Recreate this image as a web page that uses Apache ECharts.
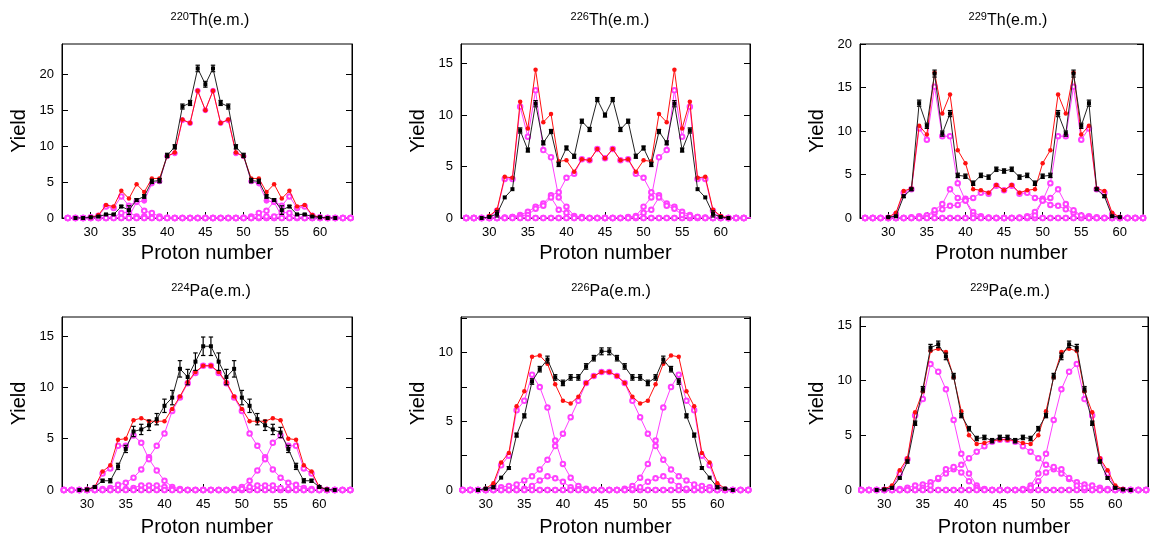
<!DOCTYPE html>
<html>
<head>
<meta charset="utf-8">
<script src="https://cdn.jsdelivr.net/npm/echarts@6/dist/echarts.min.js"></script>
<style>
html,body{margin:0;padding:0;background:#fff;}
#c{width:1151px;height:542px;}
</style>
</head>
<body>
<div id="c"></div>
<script>
// Proton number (Z) categories
const Z = [27,28,29,30,31,32,33,34,35,36, 37,38,39,40,41,42,43,44,45,46, 47,48,49,50,51,52,53,54,55,56, 57,58,59,60,61,62,63,64];
const xTicks = [30,35,40,45,50,55,60];

// Panel titles
const titleMass = ['220','226','229','224','226','229'];
const titleElem = ['Th','Th','Th','Pa','Pa','Pa'];

// ---- 220Th ----
const p1Exp = [null,0,0,0.1,0.2,0.5,0.5,1.6,1.1,2.5, 3.0,5.1,5.2,8.7,9.9,15.5,16.0,20.8,18.6,20.8, 16.0,15.5,9.9,8.7,5.2,5.1,3.0,2.5,1.1,1.6, 0.5,0.5,0.2,0.1,0,0,null,null];
const p1Err = [null,0,0,0.05,0.1,0.1,0.1,0.15,0.6,0.2, 0.25,0.3,0.3,0.3,0.3,0.35,0.35,0.45,0.4,0.45, 0.35,0.35,0.3,0.3,0.3,0.3,0.25,0.2,0.6,0.15, 0.1,0.1,0.05,0.05,0,0,null,null];
const p1Tot = [null,null,null,0.1,0.4,1.8,1.6,3.8,2.7,4.7, 3.6,5.5,5.5,8.6,9.1,13.7,13.2,17.7,15.0,17.7, 13.2,13.7,9.1,8.6,5.5,5.5,3.6,4.7,2.7,3.8, 1.6,1.8,0.4,0.1,0,null,null,null];
const p1Sym = [0,0,0,0,0,0,0,0,0.2,2.2, 2.4,4.8,5.1,8.6,9.0,13.6,13.2,17.7,15.0,17.7, 13.2,13.6,9.0,8.6,5.1,4.8,2.4,2.2,0.2,0, 0,0,0,0,0,0,0,0];
const p1L1  = [0,0,0,0.1,0.3,1.6,1.4,3.0,1.7,2.3, 1.0,0.7,0.2,0.05,0,0,0,0,0,0, 0,0,0,0,0,0,0,0,0,0, 0,0,0,0,0,0,0,0];
const p1H1  = [0,0,0,0,0,0,0,0,0,0, 0,0,0,0,0,0,0,0,0,0, 0,0,0,0.05,0.2,0.7,1.0,2.3,1.7,3.0, 1.4,1.6,0.3,0.1,0,0,0,0];
const p1L2  = [0,0,0,0,0,0,0.1,0.7,0.8,0.2, 0.2,0.1,0,0,0,0,0,0,0,0, 0,0,0,0,0,0,0,0,0,0, 0,0,0,0,0,0,0,0];
const p1H2  = [0,0,0,0,0,0,0,0,0,0, 0,0,0,0,0,0,0,0,0,0, 0,0,0,0,0,0.1,0.2,0.2,0.8,0.7, 0.1,0,0,0,0,0,0,0];

// ---- 226Th ----
const p2Exp = [null,null,0,0.1,0.4,2.0,2.8,8.5,6.6,11.1, 7.3,8.4,5.2,6.8,6.0,9.4,8.6,11.5,10.0,11.5, 8.6,9.4,6.0,6.8,5.2,8.4,7.3,11.1,6.6,8.5, 2.8,2.0,0.4,0.1,0,null,null,null];
const p2Err = [null,null,0,0.1,0.3,0,0,0.25,0.2,0.3, 0.2,0.2,0.2,0.2,0.2,0.2,0.2,0.2,0.2,0.2, 0.2,0.2,0.2,0.2,0.2,0.2,0.2,0.3,0.2,0.25, 0,0,0.3,0.1,0,null,null,null];
const p2Tot = [null,null,null,0.2,0.8,4.0,3.9,11.3,8.7,14.4, 9.3,10.1,5.5,5.6,4.5,5.7,5.6,6.7,5.8,6.7, 5.6,5.7,4.5,5.6,5.5,10.1,9.3,14.4,8.7,11.3, 3.9,4.0,0.8,0.2,0,null,null,null];
const p2Sym = [0,0,0,0,0,0.05,0.1,0.3,0.6,1.1, 1.4,2.2,2.5,3.9,4.3,5.7,5.6,6.7,5.8,6.7, 5.6,5.7,4.3,3.9,2.5,2.2,1.4,1.1,0.6,0.3, 0.1,0.05,0,0,0,0,0,0];
const p2L1  = [0,0,0,0.1,0.7,3.8,3.8,10.8,7.9,12.4, 6.6,5.9,2.0,1.1,0.2,0.1,0,0,0,0, 0,0,0,0,0,0,0,0,0,0, 0,0,0,0,0,0,0,0];
const p2H1  = [0,0,0,0,0,0,0,0,0,0, 0,0,0,0,0,0,0,0,0,0, 0,0.1,0.2,1.1,2.0,5.9,6.6,12.4,7.9,10.8, 3.8,3.8,0.7,0.1,0,0,0,0];
const p2L2  = [0,0,0,0,0,0,0.1,0.2,0.3,0.9, 1.2,2.0,0.8,0.5,0.1,0,0,0,0,0, 0,0,0,0,0,0,0,0,0,0, 0,0,0,0,0,0,0,0];
const p2H2  = [0,0,0,0,0,0,0,0,0,0, 0,0,0,0,0,0,0,0,0,0, 0,0,0.1,0.5,0.8,2.0,1.2,0.9,0.3,0.2, 0.1,0,0,0,0,0,0,0];

// ---- 229Th ----
const p3Exp = [null,null,null,0.1,0.2,2.5,3.3,13.2,10.6,16.6, 9.7,12.0,4.9,4.8,4.0,4.9,4.7,5.6,5.4,5.6, 4.7,4.9,4.0,4.8,4.9,12.0,9.7,16.6,10.6,13.2, 3.3,2.5,0.2,0.1,null,null,null,null];
const p3Err = [null,null,null,0.05,0.1,0.15,0.15,0.35,0.3,0.4, 0.3,0.35,0.25,0.25,0.25,0.25,0.25,0.25,0.25,0.25, 0.25,0.25,0.25,0.25,0.25,0.35,0.3,0.4,0.3,0.35, 0.15,0.15,0.1,0.05,null,null,null,null];
const p3Tot = [null,null,null,0.1,0.6,3.1,3.4,10.6,9.6,16.7, 12.0,14.2,7.8,6.3,3.3,3.2,2.9,3.8,3.2,3.8, 2.9,3.2,3.3,6.3,7.8,14.2,12.0,16.7,9.6,10.6, 3.4,3.1,0.6,0.1,null,null,null,null];
const p3Sym = [0,0,0,0,0,0,0.1,0.2,0.3,0.6, 1.0,1.4,1.5,2.2,2.3,2.9,2.8,3.7,3.2,3.7, 2.8,2.9,2.3,2.2,1.5,1.4,1.0,0.6,0.3,0.2, 0.1,0,0,0,0,0,0,0];
const p3L1  = [0,0,0,0,0.4,2.9,3.3,10.3,9.0,15.1, 9.4,9.4,4.0,2.0,0.7,0.2,0.05,0,0,0, 0,0,0,0,0,0,0,0,0,0, 0,0,0,0,0,0,0,0];
const p3H1  = [0,0,0,0,0,0,0,0,0,0, 0,0,0,0,0,0,0,0,0,0, 0.05,0.2,0.7,2.0,4.0,9.4,9.4,15.1,9.0,10.3, 3.3,2.9,0.4,0,0,0,0,0];
const p3L2  = [0,0,0,0,0,0,0,0,0.3,0.9, 1.6,3.3,2.3,2.0,0.3,0.1,0,0,0,0, 0,0,0,0,0,0,0,0,0,0, 0,0,0,0,0,0,0,0];
const p3H2  = [0,0,0,0,0,0,0,0,0,0, 0,0,0,0,0,0,0,0,0,0, 0,0.1,0.3,2.0,2.3,3.3,1.6,0.9,0.3,0, 0,0,0,0,0,0,0,0];

// ---- 224Pa ----
const p4Exp = [null,null,0,0.05,0.3,0.9,0.9,2.3,4.0,5.7, 5.9,6.3,6.9,8.2,9.0,11.8,11.0,12.5,14.0,14.0, 12.5,11.0,11.8,9.0,8.2,6.9,6.3,5.9,5.6,4.0, 2.3,0.9,0.9,0.3,0.05,0,null,null];
const p4Err = [null,null,0,0.05,0.1,0.15,0.2,0.3,0.35,0.5, 0.5,0.5,0.55,0.65,0.7,0.8,0.75,0.85,0.9,0.9, 0.85,0.75,0.8,0.7,0.65,0.55,0.5,0.5,0.5,0.35, 0.3,0.2,0.15,0.1,0.05,0,null,null];
const p4Tot = [null,null,null,0.05,0.3,1.8,2.4,4.9,5.0,6.8, 7.0,6.7,6.7,6.7,7.9,9.1,10.5,11.5,12.1,12.1, 11.5,10.5,9.1,7.9,6.7,6.7,6.7,7.0,6.8,5.0, 4.9,2.4,1.8,0.3,0.05,null,null,null];
const p4Sym = [0,0,0,0,0,0.1,0.2,0.5,0.7,1.2, 2.0,3.2,4.3,5.5,7.7,9.0,10.4,11.4,12.1,12.1, 11.4,10.4,9.0,7.7,5.5,4.3,3.2,2.0,1.2,0.7, 0.5,0.2,0.1,0,0,0,0,0];
const p4L1  = [0,0,0,0,0.2,1.6,2.1,4.3,4.3,5.3, 4.6,3.0,1.9,0.9,0.3,0.1,0,0,0,0, 0,0,0,0,0,0,0,0,0,0, 0,0,0,0,0,0,0,0];
const p4H1  = [0,0,0,0,0,0,0,0,0,0, 0,0,0,0,0,0,0,0,0,0, 0,0,0.1,0.3,0.9,1.9,3.0,4.6,5.3,4.3, 4.3,2.1,1.6,0.2,0,0,0,0];
const p4L2  = [0,0,0,0,0,0,0,0,0.1,0.2, 0.45,0.45,0.45,0.3,0.1,0,0,0,0,0, 0,0,0,0,0,0,0,0,0,0, 0,0,0,0,0,0,0,0];
const p4H2  = [0,0,0,0,0,0,0,0,0,0, 0,0,0,0,0,0,0,0,0,0, 0,0,0,0.1,0.3,0.45,0.45,0.45,0.2,0.1, 0,0,0,0,0,0,0,0];

// ---- 226Pa ----
const p5Exp = [null,null,0,0.1,0.2,0.9,1.6,4.0,5.4,7.9, 8.8,9.5,8.2,7.8,8.2,8.2,9.0,9.6,10.1,10.1, 9.6,9.0,8.2,8.2,7.8,8.2,9.5,8.8,7.9,5.4, 4.0,1.6,0.9,0.2,0.1,0,null,null];
const p5Err = [null,null,0,0.05,0.1,0,0.1,0.15,0.15,0.2, 0.2,0.25,0.2,0.2,0.2,0.2,0.2,0.2,0.25,0.25, 0.2,0.2,0.2,0.2,0.2,0.2,0.25,0.2,0.2,0.15, 0.15,0.1,0,0.1,0.05,0,null,null];
const p5Tot = [null,null,null,0.1,0.5,2.0,2.7,6.1,7.2,9.7, 9.8,9.2,7.7,6.5,6.3,6.8,7.8,8.3,8.6,8.6, 8.3,7.8,6.8,6.3,6.5,7.7,9.2,9.8,9.7,7.2, 6.1,2.7,2.0,0.5,0.1,null,null,null];
const p5Sym = [0,0,0,0,0,0.2,0.3,0.4,0.7,1.0, 1.5,2.2,3.2,4.1,5.3,6.5,7.8,8.3,8.6,8.6, 8.3,7.8,6.5,5.3,4.1,3.2,2.2,1.5,1.0,0.7, 0.4,0.3,0.2,0,0,0,0,0];
const p5L1  = [0,0,0,0,0.3,1.8,2.5,5.8,6.5,8.4, 7.5,6.0,3.6,1.9,0.9,0.3,0.1,0,0,0, 0,0,0,0,0,0,0,0,0,0, 0,0,0,0,0,0,0,0];
const p5H1  = [0,0,0,0,0,0,0,0,0,0, 0,0,0,0,0,0,0,0,0,0, 0,0.1,0.3,0.9,1.9,3.6,6.0,7.5,8.4,6.5, 5.8,2.5,1.8,0.3,0,0,0,0];
const p5L2  = [0,0,0,0,0,0,0,0,0.1,0.3, 0.7,1.0,0.85,0.6,0.2,0.05,0,0,0,0, 0,0,0,0,0,0,0,0,0,0, 0,0,0,0,0,0,0,0];
const p5H2  = [0,0,0,0,0,0,0,0,0,0, 0,0,0,0,0,0,0,0,0,0, 0,0,0.05,0.2,0.6,0.85,1.0,0.7,0.3,0.1, 0,0,0,0,0,0,0,0];

// ---- 229Pa ----
const p6Exp = [null,null,0,0.05,0.2,1.1,2.6,6.1,9.2,13.0, 13.3,12.2,10.4,6.8,5.6,4.7,4.8,4.5,4.8,4.8, 4.5,4.8,4.7,5.6,6.8,10.4,12.2,13.3,13.0,9.2, 6.1,2.6,1.1,0.2,0.05,0,null,null];
const p6Err = [null,null,0,0.05,0.1,0.1,0.15,0.2,0.25,0.3, 0.3,0.3,0.25,0.2,0.2,0.2,0.2,0.2,0.2,0.2, 0.2,0.2,0.2,0.2,0.2,0.25,0.3,0.3,0.3,0.25, 0.2,0.15,0.1,0.1,0.05,0,null,null];
const p6Tot = [null,null,null,0.1,0.4,1.8,2.9,7.1,9.0,12.7, 12.9,12.6,10.3,7.2,5.0,4.2,4.3,4.5,4.6,4.6, 4.5,4.3,4.2,5.0,7.2,10.3,12.6,12.9,12.7,9.0, 7.1,2.9,1.8,0.4,0.1,null,null,null];
const p6Sym = [0,0,0,0,0,0.1,0.2,0.4,0.5,0.7, 1.0,1.5,1.9,2.3,2.9,3.5,4.0,4.4,4.6,4.6, 4.4,4.0,3.5,2.9,2.3,1.9,1.5,1.0,0.7,0.5, 0.4,0.2,0.1,0,0,0,0,0];
const p6L1  = [0,0,0,0,0.2,1.5,2.8,6.8,8.3,11.5, 10.8,9.2,6.4,3.3,1.5,0.4,0.1,0,0,0, 0,0,0,0,0,0,0,0,0,0, 0,0,0,0,0,0,0,0];
const p6H1  = [0,0,0,0,0,0,0,0,0,0, 0,0,0,0,0,0,0,0,0,0, 0,0.1,0.4,1.5,3.3,6.4,9.2,10.8,11.5,8.3, 6.8,2.8,1.5,0.2,0,0,0,0];
const p6L2  = [0,0,0,0,0,0,0,0,0.2,0.4, 1.1,1.9,2.1,1.6,0.8,0.2,0.05,0,0,0, 0,0,0,0,0,0,0,0,0,0, 0,0,0,0,0,0,0,0];
const p6H2  = [0,0,0,0,0,0,0,0,0,0, 0,0,0,0,0,0,0,0,0,0, 0,0.05,0.2,0.8,1.6,2.1,1.9,1.1,0.4,0.2, 0,0,0,0,0,0,0,0];

// Y tick values
const yTicks20 = [0,5,10,15,20];
const yTicks15 = [0,5,10,15];
const yTicks10 = [0,2.5,5,7.5,10,12.5];
const yLabels10 = [0,5,10];

// ---- layout / style ----
const FONT = 'Liberation Sans';
const MAG = '#ff40ff';
const RED = '#ff1010';
const panels = [
  {exp:p1Exp, err:p1Err, tot:p1Tot, comps:[p1Sym,p1L1,p1H1,p1L2,p1H2], symFilled:true,
   grid:{left:62, top:44, width:290, height:174}, xmin:26.24, xmax:64.19, ymax:24.2, yt:yTicks20, yl:yTicks20, tx:210, ty:21},
  {exp:p2Exp, err:p2Err, tot:p2Tot, comps:[p2Sym,p2L1,p2H1,p2L2,p2H2], symFilled:false,
   grid:{left:461, top:44, width:289, height:174}, xmin:26.33, xmax:63.8, ymax:16.9, yt:yTicks15, yl:yTicks15, tx:610, ty:21},
  {exp:p3Exp, err:p3Err, tot:p3Tot, comps:[p3Sym,p3L1,p3H1,p3L2,p3H2], symFilled:false,
   grid:{left:860, top:44, width:283, height:174}, xmin:26.34, xmax:63.0, ymax:20, yt:yTicks20, yl:yTicks20, tx:1008, ty:21},
  {exp:p4Exp, err:p4Err, tot:p4Tot, comps:[p4Sym,p4L1,p4H1,p4L2,p4H2], symFilled:false,
   grid:{left:62, top:317, width:290, height:173}, xmin:26.76, xmax:64.23, ymax:16.85, yt:yTicks15, yl:yTicks15, tx:211, ty:292},
  {exp:p5Exp, err:p5Err, tot:p5Tot, comps:[p5Sym,p5L1,p5H1,p5L2,p5H2], symFilled:false,
   grid:{left:461, top:317, width:289, height:173}, xmin:26.8, xmax:64.23, ymax:12.6, yt:yTicks10, yl:yLabels10, tx:611, ty:292},
  {exp:p6Exp, err:p6Err, tot:p6Tot, comps:[p6Sym,p6L1,p6H1,p6L2,p6H2], symFilled:false,
   grid:{left:860, top:317, width:288, height:173}, xmin:26.84, xmax:64.25, ymax:15.8, yt:yTicks15, yl:yTicks15, tx:1010, ty:292}
];

function pairs(arr){
  const out = [];
  for (let i = 0; i < Z.length; i++) if (arr[i] !== null && arr[i] !== undefined) out.push([Z[i], arr[i]]);
  return out;
}
function errPairs(exp, err){
  const out = [];
  for (let i = 0; i < Z.length; i++) {
    if (exp[i] === null || err[i] === null || !(err[i] > 0)) continue;
    out.push([Z[i], exp[i] - err[i], exp[i] + err[i]]);
  }
  return out;
}
function errRender(params, api){
  const x = api.value(0);
  const lo = api.coord([x, api.value(1)]);
  const hi = api.coord([x, api.value(2)]);
  const w = 2.2;
  const st = {stroke:'#000', lineWidth:1.2};
  return {type:'group', children:[
    {type:'line', shape:{x1:lo[0], y1:lo[1], x2:hi[0], y2:hi[1]}, style:st},
    {type:'line', shape:{x1:lo[0]-w, y1:lo[1], x2:lo[0]+w, y2:lo[1]}, style:st},
    {type:'line', shape:{x1:hi[0]-w, y1:hi[1], x2:hi[0]+w, y2:hi[1]}, style:st}
  ]};
}

const grids = [], xAxes = [], yAxes = [], series = [], graphics = [];
panels.forEach((p, i) => {
  grids.push(Object.assign({show:true, borderColor:'#000', borderWidth:1, containLabel:false}, p.grid));
  xAxes.push({
    type:'value', gridIndex:i, min:p.xmin, max:p.xmax,
    axisLine:{show:true, onZero:false, lineStyle:{color:'#000', width:1}},
    axisTick:{show:true, inside:true, length:6, customValues:xTicks, lineStyle:{color:'#000', width:1}},
    axisLabel:{show:true, customValues:xTicks, fontSize:13, color:'#000', margin:8, fontFamily:FONT},
    splitLine:{show:false},
    name:'Proton number', nameLocation:'middle', nameGap:i < 3 ? 25 : 27,
    nameTextStyle:{fontSize:20, color:'#000', fontFamily:FONT}
  });
  yAxes.push({
    type:'value', gridIndex:i, min:0, max:p.ymax, position:'left',
    axisLine:{show:true, onZero:false, lineStyle:{color:'#000', width:1}},
    axisTick:{show:true, inside:true, length:6, customValues:p.yt, lineStyle:{color:'#000', width:1}},
    axisLabel:{show:true, customValues:p.yl, fontSize:13, color:'#000', margin:8, fontFamily:FONT},
    splitLine:{show:false},
    name:'Yield', nameLocation:'middle', nameGap:33, nameRotate:90,
    nameTextStyle:{fontSize:20, color:'#000', fontFamily:FONT}
  });
  yAxes.push({
    type:'value', gridIndex:i, min:0, max:p.ymax, position:'right',
    axisLine:{show:true, onZero:false, lineStyle:{color:'#000', width:1}},
    axisTick:{show:true, inside:true, length:6, customValues:p.yt, lineStyle:{color:'#000', width:1}},
    axisLabel:{show:false}, splitLine:{show:false}
  });
  const yi = 2 * i;
  p.comps.forEach((c, k) => {
    const filled = (k === 0 && p.symFilled);
    series.push({
      type:'line', xAxisIndex:i, yAxisIndex:yi, data:pairs(c),
      symbol: filled ? 'circle' : 'emptyCircle', symbolSize: filled ? 5 : 4.5, showAllSymbol:true,
      lineStyle:{color:MAG, width:1}, itemStyle:{color:MAG, borderColor:MAG, borderWidth:1},
      z:2, animation:false, silent:true
    });
  });
  series.push({
    type:'line', xAxisIndex:i, yAxisIndex:yi, data:pairs(p.tot),
    symbol:'circle', symbolSize:4.5, showAllSymbol:true,
    lineStyle:{color:RED, width:1}, itemStyle:{color:RED},
    z:3, animation:false, silent:true
  });
  series.push({
    type:'custom', xAxisIndex:i, yAxisIndex:yi, data:errPairs(p.exp, p.err),
    encode:{x:0, y:[1,2]}, renderItem:errRender, z:4, animation:false, silent:true, clip:true
  });
  series.push({
    type:'line', xAxisIndex:i, yAxisIndex:yi, data:pairs(p.exp),
    symbol:'rect', symbolSize:4, showAllSymbol:true,
    lineStyle:{color:'#222', width:1}, itemStyle:{color:'#000'},
    z:5, animation:false, silent:true
  });
  graphics.push({
    type:'text', x:p.tx, y:p.ty, z:10,
    style:{
      text:'{s|' + titleMass[i] + '}{t|' + titleElem[i] + '(e.m.)}',
      align:'center', verticalAlign:'middle',
      fill:'#000', font:'16px ' + FONT,
      rich:{
        s:{fontSize:11, fontFamily:FONT, lineHeight:11, padding:[0,0,9,0], fill:'#000'},
        t:{fontSize:16, fontFamily:FONT, lineHeight:20, fill:'#000'}
      }
    }
  });
});

const chart = echarts.init(document.getElementById('c'), null, {renderer:'canvas'});
chart.setOption({
  backgroundColor:'#fff',
  animation:false,
  grid:grids, xAxis:xAxes, yAxis:yAxes, series:series, graphic:graphics
});
</script>
</body>
</html>
